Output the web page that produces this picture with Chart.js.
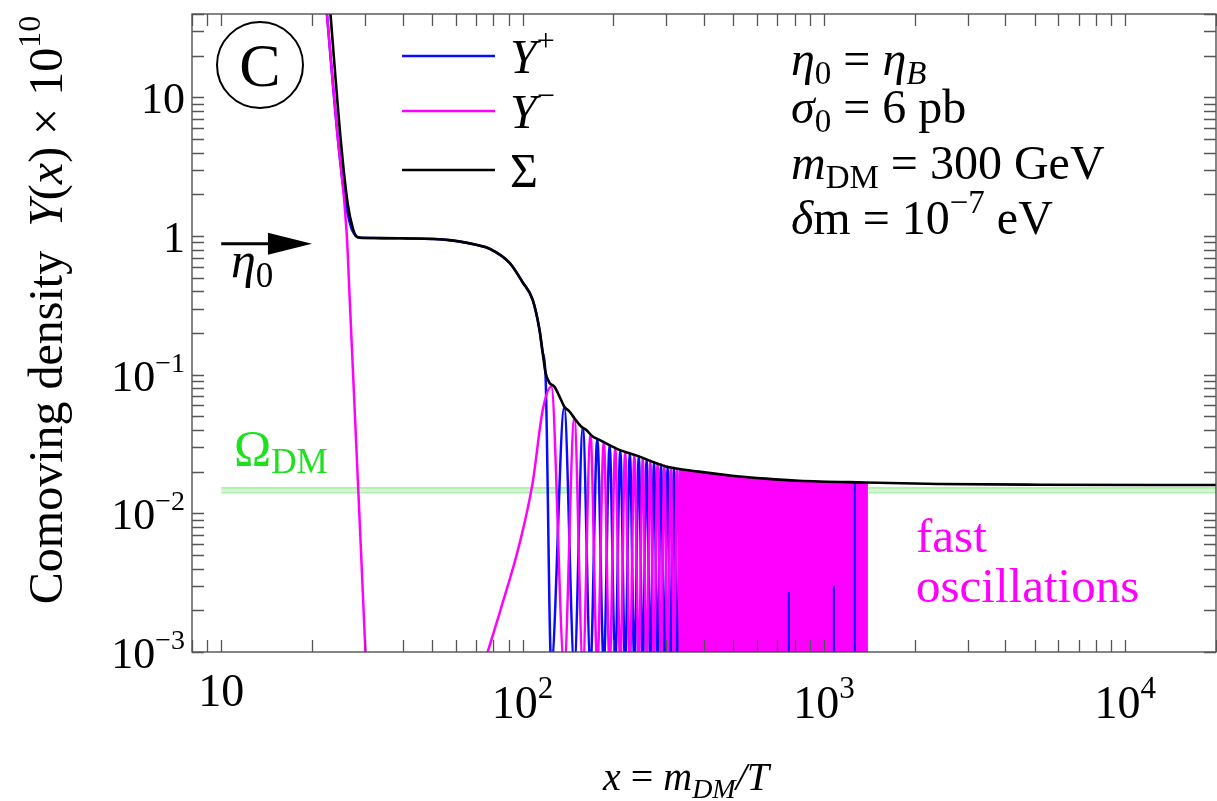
<!DOCTYPE html>
<html>
<head>
<meta charset="utf-8">
<script src="https://cdn.jsdelivr.net/npm/chart.js@4.4.1/dist/chart.umd.min.js"></script>
<style>
  html, body { margin: 0; padding: 0; background: #fff; }
  #wrap { width: 1217px; height: 801px; position: relative; }
</style>
</head>
<body>
<div id="wrap"><canvas id="plot"></canvas></div>
<script>
const SERIF = '"Liberation Serif", "DejaVu Serif", serif';
const BLUE = '#0a0aff';
const MAGENTA = '#ff00ff';

// axis ranges
const xRange = [8, 20000];
const yRange = [1e-3, 40];
const xTickLabels = [[10, '10', ''], [100, '10', '2'], [1000, '10', '3'], [10000, '10', '4']];
const yTickLabels = [[1e-3, '10', '\u22123'], [1e-2, '10', '\u22122'], [1e-1, '10', '\u22121'], [1, '1', ''], [10, '10', '']];

// Σ = Y+ + Y-
const sumX = [22.64, 25.0, 26.3, 27.3, 28.0, 28.8, 32, 39.2, 57.3, 70, 77.8, 90.6, 100, 108, 113.8, 116.5, 119.2,
  122.8, 127.6, 132.6, 137.6, 143.1, 148.6, 156.4, 162.5, 170.9, 179.9, 209.5, 238, 299, 385, 496, 641, 826,
  1373, 2404, 5150, 20000];
const sumY = [65, 4.6, 1.7, 1.15, 1.0, 0.975, 0.968, 0.964, 0.935, 0.865, 0.81, 0.64, 0.465, 0.348, 0.211, 0.1466, 0.1033,
  0.0875, 0.0819, 0.0697, 0.0587, 0.0543, 0.0486, 0.0423, 0.0401, 0.0358, 0.0339, 0.0287, 0.0262, 0.0218, 0.0200, 0.0187, 0.0178, 0.0172,
  0.0167, 0.0163, 0.0161, 0.0160];

// Y+ up to its first dip
const plusHeadX = [22.0, 24.27, 25.6, 27.0, 28.3, 28.8, 32, 39.2, 57.3, 70, 77.8, 90.6, 100, 108, 113.8, 116.5, 119.2];
const plusHeadY = [65.5, 5.59, 2.0, 1.15, 0.985, 0.975, 0.968, 0.964, 0.935, 0.865, 0.81, 0.64, 0.465, 0.348, 0.211, 0.1466, 0.098];

// Y- : early drop, then the rise into the first oscillation
const minusDropX = [22.0, 24.27, 26.08, 26.7, 28.5, 30.1, 30.5];
const minusDropY = [65.5, 5.59, 1.06, 0.348, 0.0148, 0.001, 0.0005];
const minusRiseX = [71.0, 76.6, 83.9, 97.7, 108, 116.7];
const minusRiseY = [0.0006, 0.001, 0.00191, 0.00603, 0.0166, 0.0559];

// oscillation nodes: at each node one of Y+ / Y- peaks while the other dips out of the axis
const swingX = [124.5, 137.5, 148.5, 158.5, 168, 177, 186, 194.5, 203, 211, 219, 227, 235, 243, 250.5,
  258, 265.5, 273, 280.5, 288, 295.5, 303, 310.5, 318, 325.5, 333];
const swingPeak = [0.082, 0.058, 0.0486, 0.0413, 0.037, 0.0345, 0.0327, 0.031, 0.0297, 0.0285, 0.0278, 0.0271,
  0.0264, 0.0259, 0.0252, 0.0246, 0.024, 0.0235, 0.023, 0.0226, 0.0221, 0.0217, 0.0215, 0.0213, 0.0211, 0.0209];
const dipY = 8e-4;

// fast oscillations too dense to resolve: filled envelope
const bandX = [330, 385, 496, 641, 826, 1100, 1400];
const bandY = [0.0208, 0.0199, 0.0186, 0.0177, 0.0171, 0.0168, 0.0166];

// isolated Y+ strokes inside the dense band
const spikeX = [765, 1079, 1266];
const spikeTop = [0.0027, 0.0030, 0.0166];

// relic abundance band
const omegaX = [10, 20000];
const omegaLo = 0.0141, omegaHi = 0.0153;

const pts = (xs, ys) => xs.map((x, i) => ({ x: x, y: ys[i] }));

const plusData = pts(plusHeadX, plusHeadY).concat(
  swingX.map((x, i) => ({ x: x, y: i % 2 ? swingPeak[i] : dipY })));
const minusData = pts(minusDropX, minusDropY)
  .concat([{ x: 50, y: null }])
  .concat(pts(minusRiseX, minusRiseY))
  .concat(swingX.map((x, i) => ({ x: x, y: i % 2 ? dipY : swingPeak[i] })));
const spikeData = [];
spikeX.forEach((x, i) => {
  spikeData.push({ x: x, y: dipY }, { x: x, y: spikeTop[i] }, { x: x, y: null });
});

const lineBase = { pointRadius: 0, fill: false, clip: 0, cubicInterpolationMode: 'monotone' };

// ticks, frame and all the typeset text
function font(size, italic) {
  return (italic ? 'italic ' : '') + size + 'px ' + SERIF;
}
function rich(ctx, parts, x, y, align) {
  let w = 0;
  parts.forEach(p => { ctx.font = font(p.s, p.i); p.w = ctx.measureText(p.t).width + (p.k || 0); w += p.w; });
  let cx = align === 'center' ? x - w / 2 : align === 'right' ? x - w : x;
  parts.forEach(p => { ctx.font = font(p.s, p.i); ctx.fillText(p.t, cx, y + (p.dy || 0)); cx += p.w; });
  return w;
}

const decor = {
  id: 'decor',
  afterDraw(chart) {
    const ctx = chart.ctx;
    const a = chart.chartArea;
    const xs = chart.scales.x, ys = chart.scales.y;
    ctx.save();

    // frame and inward ticks
    ctx.strokeStyle = '#444';
    ctx.lineWidth = 1.3;
    ctx.strokeRect(a.left, a.top, a.right - a.left, a.bottom - a.top);
    const tl = 12;
    ctx.strokeStyle = '#555';
    ctx.beginPath();
    for (let e = 0; e <= 4; e++) {
      for (let k = 1; k <= 9; k++) {
        const v = k * Math.pow(10, e);
        if (v < xRange[0] || v > xRange[1]) continue;
        const px = Math.round(xs.getPixelForValue(v)) + 0.5;
        ctx.moveTo(px, a.bottom); ctx.lineTo(px, a.bottom - tl);
        ctx.moveTo(px, a.top); ctx.lineTo(px, a.top + tl);
      }
    }
    for (let e = -3; e <= 1; e++) {
      for (let k = 1; k <= 9; k++) {
        const v = k * Math.pow(10, e);
        if (v < yRange[0] || v > yRange[1]) continue;
        const py = Math.round(ys.getPixelForValue(v)) + 0.5;
        ctx.moveTo(a.left, py); ctx.lineTo(a.left + tl, py);
        ctx.moveTo(a.right, py); ctx.lineTo(a.right - tl, py);
      }
    }
    ctx.stroke();

    ctx.fillStyle = '#000';
    ctx.textBaseline = 'alphabetic';
    // tick labels
    xTickLabels.forEach(([v, base, sup]) => {
      const px = xs.getPixelForValue(v);
      const parts = [{ t: base, s: 46, dy: sup ? 12 : 0 }];
      if (sup) parts.push({ t: sup, s: 31, dy: -8 });
      rich(ctx, parts, px, 706, 'center');
    });
    yTickLabels.forEach(([v, base, sup]) => {
      const py = ys.getPixelForValue(v);
      const parts = [{ t: base, s: 44 }];
      if (sup) parts.push({ t: sup, s: 28, dy: -19 });
      rich(ctx, parts, 185, py + 16, 'right');
    });

    // axis titles
    rich(ctx, [
      { t: 'x', s: 40, i: true }, { t: ' = ', s: 40 }, { t: 'm', s: 40, i: true },
      { t: 'DM', s: 28, i: true, dy: 8 }, { t: '/', s: 40, i: true }, { t: 'T', s: 40, i: true }
    ], 686, 790, 'center');
    ctx.save();
    ctx.translate(62, 310);
    ctx.rotate(-Math.PI / 2);
    rich(ctx, [
      { t: 'Comoving density  ', s: 48 }, { t: 'Y', s: 48, i: true }, { t: '(', s: 48 },
      { t: 'x', s: 48, i: true }, { t: ') \u00d7 10', s: 48 }, { t: '10', s: 32, dy: -22 }
    ], 0, 0, 'center');
    ctx.restore();

    // legend
    const legend = [[56, BLUE, [{ t: 'Y', s: 48, i: true }, { t: '+', s: 32, dy: -22 }]],
                    [111, MAGENTA, [{ t: 'Y', s: 48, i: true }, { t: '\u2212', s: 32, dy: -22 }]],
                    [170, '#000', [{ t: '\u03a3', s: 48 }]]];
    legend.forEach(([ly, col, parts]) => {
      ctx.strokeStyle = col;
      ctx.lineWidth = 2.5;
      ctx.beginPath(); ctx.moveTo(402, ly); ctx.lineTo(495, ly); ctx.stroke();
      ctx.fillStyle = '#000';
      rich(ctx, parts, 510, ly + 17, 'left');
    });

    // panel mark
    ctx.strokeStyle = '#000';
    ctx.lineWidth = 2;
    ctx.beginPath(); ctx.arc(260, 65, 43, 0, Math.PI * 2); ctx.stroke();
    ctx.font = font(62, false);
    ctx.textAlign = 'center';
    ctx.fillText('C', 260, 86);
    ctx.textAlign = 'left';

    // parameters
    const P = 48, S = 33;
    rich(ctx, [{ t: '\u03b7', s: P, i: true }, { t: '0', s: S, dy: 9 }, { t: ' = ', s: P },
               { t: '\u03b7', s: P, i: true }, { t: 'B', s: S, i: true, dy: 9 }], 791, 75, 'left');
    rich(ctx, [{ t: '\u03c3', s: P, i: true }, { t: '0', s: S, dy: 9 }, { t: ' = 6 pb', s: P }], 791, 123, 'left');
    rich(ctx, [{ t: 'm', s: P, i: true }, { t: 'DM', s: S, dy: 9 }, { t: ' = 300 GeV', s: P }], 791, 179, 'left');
    rich(ctx, [{ t: '\u03b4', s: P, i: true }, { t: 'm = 10', s: P }, { t: '\u22127', s: S, dy: -21 },
               { t: ' eV', s: P }], 791, 234, 'left');

    // Ω_DM label
    ctx.fillStyle = '#1ee01e';
    rich(ctx, [{ t: '\u03a9', s: 50 }, { t: 'DM', s: 35, dy: 8 }], 234, 465, 'left');

    // fast oscillations note
    ctx.fillStyle = MAGENTA;
    ctx.font = font(49, false);
    ctx.fillText('fast', 916, 552);
    ctx.fillText('oscillations', 916, 602);

    // η0 arrow
    const ay = ys.getPixelForValue(0.88);
    const ax0 = xs.getPixelForValue(10), ax1 = xs.getPixelForValue(20);
    ctx.strokeStyle = '#000';
    ctx.fillStyle = '#000';
    ctx.lineWidth = 3;
    ctx.beginPath(); ctx.moveTo(ax0, ay); ctx.lineTo(ax1 - 38, ay); ctx.stroke();
    ctx.beginPath();
    ctx.moveTo(ax1, ay); ctx.lineTo(ax1 - 44, ay - 11); ctx.lineTo(ax1 - 44, ay + 11); ctx.closePath();
    ctx.fill();
    rich(ctx, [{ t: '\u03b7', s: 50, i: true }, { t: '0', s: 35, dy: 10 }], 231, 277, 'left');

    ctx.restore();
  }
};

new Chart(document.getElementById('plot'), {
  type: 'line',
  data: {
    datasets: [
      { ...lineBase, label: '\u03a3', data: pts(sumX, sumY), borderColor: '#000', borderWidth: 2.6, order: 0 },
      { ...lineBase, label: 'Y+ strokes', data: spikeData, borderColor: BLUE, borderWidth: 2,
        cubicInterpolationMode: 'default', tension: 0, order: 1 },
      { ...lineBase, label: 'band', data: pts(bandX, bandY), borderWidth: 0, tension: 0,
        cubicInterpolationMode: 'default', backgroundColor: MAGENTA, fill: 'start', order: 2 },
      { ...lineBase, label: 'Y-', data: minusData, borderColor: MAGENTA, borderWidth: 2.5, order: 3 },
      { ...lineBase, label: 'Y+', data: plusData, borderColor: BLUE, borderWidth: 2.5, order: 4 },
      { ...lineBase, label: 'omega hi', data: omegaX.map(x => ({ x: x, y: omegaHi })), tension: 0,
        borderColor: 'rgba(120,225,120,0.55)', borderWidth: 1.5, backgroundColor: 'rgba(170,240,170,0.55)',
        fill: '+1', order: 5 },
      { ...lineBase, label: 'omega lo', data: omegaX.map(x => ({ x: x, y: omegaLo })), tension: 0,
        borderColor: 'rgba(120,225,120,0.55)', borderWidth: 1.5, order: 6 }
    ]
  },
  options: {
    responsive: true,
    maintainAspectRatio: false,
    devicePixelRatio: 1,
    animation: false,
    layout: { padding: { top: 14, right: 1, left: 0, bottom: 0 } },
    plugins: { legend: { display: false }, tooltip: { enabled: false } },
    scales: {
      x: {
        type: 'logarithmic', min: xRange[0], max: xRange[1],
        ticks: { display: false }, grid: { display: false }, border: { display: false },
        afterFit: s => { s.height = 149; }
      },
      y: {
        type: 'logarithmic', min: yRange[0], max: yRange[1],
        ticks: { display: false }, grid: { display: false }, border: { display: false },
        afterFit: s => { s.width = 192; }
      }
    }
  },
  plugins: [decor]
});
</script>
</body>
</html>
